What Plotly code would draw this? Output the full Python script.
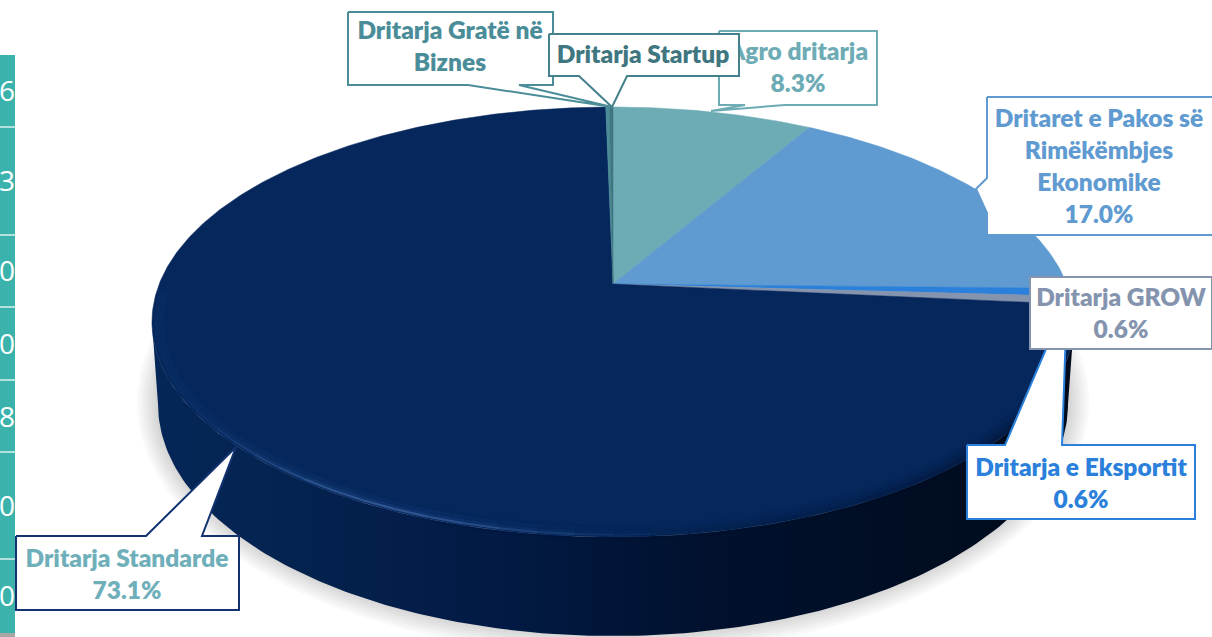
import numpy as np
import plotly.graph_objects as go

# ---- data ----
slice_names = ["Agro dritarja", "Dritaret e Pakos së<br>Rimëkëmbjes<br>Ekonomike", "Dritarja e Eksportit",
               "Dritarja GROW", "Dritarja Standarde", "Dritarja Gratë në<br>Biznes", "Dritarja Startup"]
slice_values = [8.3, 17.0, 0.6, 0.6, 73.1, 0.15, 0.15]
slice_percent_shown = [True, True, True, True, True, False, False]
slice_colors = ["#6DABB5", "#5F9BD0", "#2A80DA", "#8594AE", "#06275C", "#4A8D99", "#3F7680"]
table_digits = ["6", "3", "0", "0", "8", "0", "0"]

# ---- pie geometry (perspective projection of a disc, pixel axes) ----
CX, CY, A, B, K = 613, 284, 453.8, 208.3, 0.1767
BOT_CY, BOT_RX, BOT_RY = 404, 455, 232
LEFT_EXTREME, RIGHT_EXTREME = 259.8, 100.2


def project(theta_deg, r=1.0):
    t = np.radians(theta_deg)
    u, v = r * np.sin(t), r * np.cos(t)
    w = 1 + K * v
    return CX + A * u / w, CY - B * v / w


def poly(**kw):
    return go.Scatter(mode="lines", fill="toself", hoverinfo="skip", showlegend=False, **kw)


def rim_line(a0, a1, r, width, color):
    px, py = project(np.linspace(a0, a1, 6), r)
    return go.Scatter(x=px, y=py, mode="lines", hoverinfo="skip", showlegend=False,
                      line=dict(width=width, color=color))


fig = go.Figure()

# soft shadow below the disc
t_full = np.linspace(0, 2 * np.pi, 241)
for g in range(3, 22, 3):
    fig.add_trace(poly(x=CX + (BOT_RX + g) * np.cos(t_full), y=BOT_CY - 2 + (BOT_RY + g) * np.sin(t_full),
                       line=dict(width=0), fillcolor="rgba(0,0,0,0.022)"))

# side wall
t_low = np.linspace(np.pi, 0, 181)
tx, ty = project(np.linspace(RIGHT_EXTREME, LEFT_EXTREME, 181))
sx = np.concatenate([CX + BOT_RX * np.cos(t_low), tx])
sy = np.concatenate([BOT_CY + BOT_RY * np.sin(t_low), ty])
fig.add_trace(go.Scatter(
    x=sx, y=sy, mode="lines", line=dict(width=0), fill="toself", hoverinfo="skip", showlegend=False,
    fillgradient=dict(type="horizontal", start=150, stop=1075,
                      colorscale=[[0, "#052658"], [0.15, "#04234F"], [0.38, "#021A44"],
                                  [0.6, "#01112E"], [0.85, "#000D22"], [1, "#000A1A"]])))

# top face: one wedge per value, swept clockwise from twelve o'clock
edges = np.concatenate([[0], np.cumsum(slice_values)]) / np.sum(slice_values) * 360
for i, col in enumerate(slice_colors):
    ang = np.linspace(edges[i], edges[i + 1], max(3, int(edges[i + 1] - edges[i]) * 2))
    px, py = project(ang)
    fig.add_trace(poly(x=np.r_[CX, px, CX], y=np.r_[CY, py, CY], line=dict(width=0.5, color=col), fillcolor=col))

# rim shade on the front right, then rim light on the front left
step = 4
for a0 in np.arange(96, 200, step):
    s = np.clip(1 - abs(a0 - 128) / 72, 0, 1)
    for r, w, al in [(0.985, 16, 0.10), (0.99, 10, 0.16), (0.995, 5, 0.22)]:
        fig.add_trace(rim_line(a0, a0 + step, r, w, f"rgba(1,14,38,{al * s:.3f})"))
for a0 in np.arange(268, 172, -step):
    p = (268 - a0) / 96
    s = np.exp(-((p - 0.63) / 0.22) ** 2)
    soft = np.clip((1 - p) / 0.25, 0, 1)
    fig.add_trace(rim_line(a0, a0 - step, 0.985, 10, f"rgba(30,80,150,{0.07 * soft + 0.06 * s:.3f})"))
    fig.add_trace(rim_line(a0, a0 - step, 0.99, 5, f"rgba(50,100,170,{0.03 * soft + 0.14 * s:.3f})"))
    fig.add_trace(rim_line(a0, a0 - step, 0.993, 2, f"rgba(100,140,195,{0.40 * s:.3f})"))

# ---- call-outs, drawn in stacking order ----
callouts = {
    "Dritarja Standarde": dict(i=4, xs=[16, 146, 236, 202, 239, 239, 16], ys=[536, 536, 447, 536, 536, 610, 610],
                               line="#12336F", tx=127, ty=577, col="#6FAFBA"),
    "Dritarja e Eksportit": dict(i=2, xs=[967, 1005, 1067, 1062, 1195, 1195, 967], ys=[445, 445, 300, 445, 445, 519, 519],
                                 line="#2A80DA", tx=1081, ty=486, col="#2A80DA"),
    "Dritarja GROW": dict(i=3, xs=[1030, 1212, 1212, 1030], ys=[277, 277, 349, 349],
                          line="#8594AE", tx=1121, ty=316, col="#8594AE"),
    "Pakos": dict(i=1, xs=[987, 1213, 1213, 987, 987, 976, 987], ys=[97, 97, 235, 235, 213, 189, 178],
                  line="#5F9BD0", tx=1099, ty=169, col="#5F9BD0"),
    "Gratë": dict(i=5, xs=[348, 553, 553, 519, 612, 468, 348], ys=[12, 12, 85, 85, 107, 85, 85],
                  line="#4A8D99", tx=450, ty=49, col="#4A8D99"),
    "Agro": dict(i=0, xs=[719, 877, 877, 785, 711, 745, 719], ys=[31, 31, 105, 105, 111, 105, 105],
                 line="#6DABB5", tx=798, ty=70, col="#6DABB5"),
    "Startup": dict(i=6, xs=[549, 739, 739, 627, 612, 579, 549], ys=[34, 34, 76, 76, 107, 76, 76],
                    line="#45818C", tx=643, ty=57, col="#3F7680"),
}
for c in callouts.values():
    i = c["i"]
    fig.add_trace(poly(x=c["xs"] + c["xs"][:1], y=c["ys"] + c["ys"][:1],
                       line=dict(width=2, color=c["line"]), fillcolor="white"))
    text = slice_names[i]
    if slice_percent_shown[i]:
        text += f"<br>{slice_values[i]:.1f}%"
    fig.add_trace(go.Scatter(x=[c["tx"]], y=[c["ty"]], mode="text", text=[text],
                             textposition="middle center", hoverinfo="skip", showlegend=False,
                             textfont=dict(family="Lato", size=24.5, weight=800, color=c["col"])))

# ---- clipped table fragment on the left edge ----
row_lines = [127, 235, 307, 380, 452, 559]
digit_y = [94, 184, 274, 347, 420, 509, 599]
shapes = [dict(type="rect", xref="x", yref="y", x0=0, x1=15, y0=55, y1=633, fillcolor="#3BB3AC", line_width=0, layer="below"),
          dict(type="rect", xref="x", yref="y", x0=0, x1=15, y0=633, y1=637, fillcolor="#A6A6A6", line_width=0, layer="below")]
for yl in row_lines:
    shapes.append(dict(type="line", xref="x", yref="y", x0=0, x1=15, y0=yl, y1=yl,
                       line=dict(color="#DDF1EF", width=1.5), layer="below"))
fig.add_trace(go.Scatter(x=[15] * len(table_digits), y=digit_y, mode="text", text=table_digits,
                         textposition="middle left", hoverinfo="skip", showlegend=False,
                         textfont=dict(family="Open Sans", size=28, color="white")))

fig.update_layout(
    width=1212, height=637, margin=dict(l=0, r=0, t=0, b=0), autosize=False,
    paper_bgcolor="white", plot_bgcolor="white", shapes=shapes, showlegend=False,
    xaxis=dict(range=[0, 1212], visible=False, fixedrange=True),
    yaxis=dict(range=[637, 0], visible=False, fixedrange=True),
)
fig.write_html("out.html", config=dict(displayModeBar=False),
               post_script="document.body.style.margin='0';document.body.style.overflow='hidden';")
